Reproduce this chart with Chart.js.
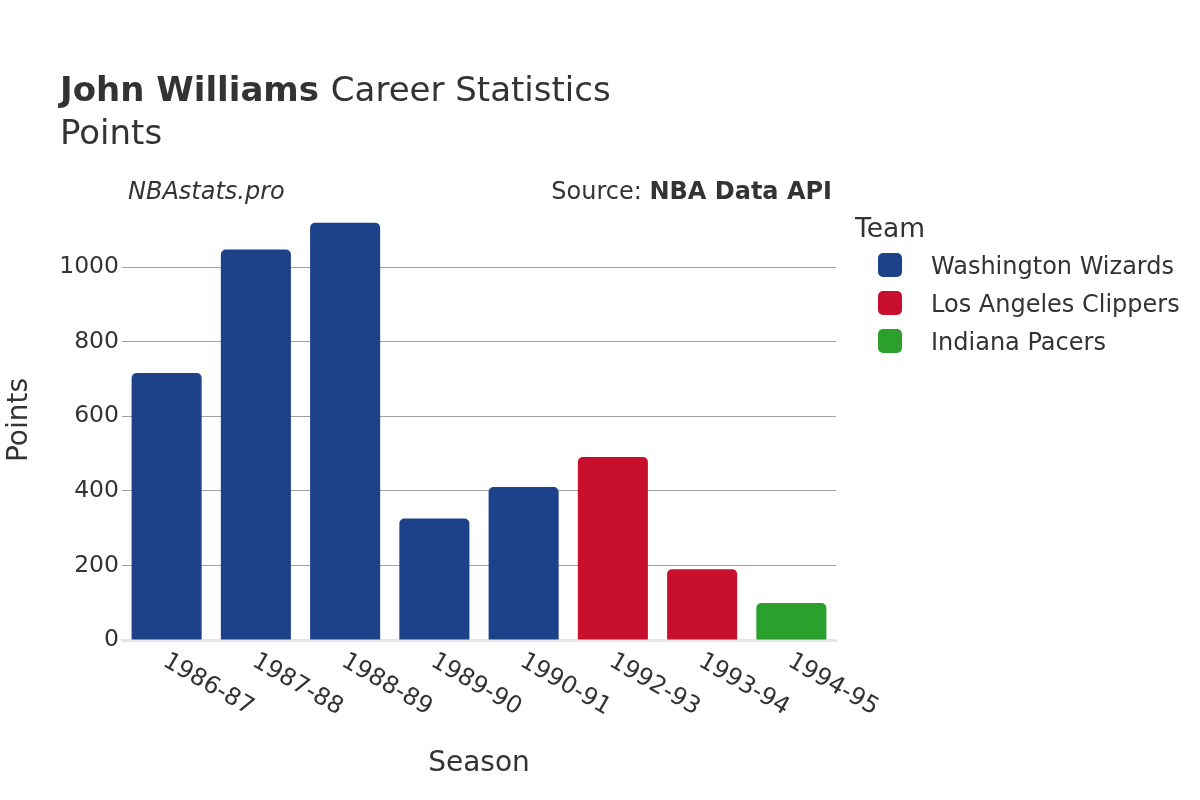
<!DOCTYPE html>
<html>
<head>
<meta charset="utf-8">
<script src="https://cdn.jsdelivr.net/npm/chart.js@4.4.1/dist/chart.umd.min.js"></script>
<style>
  html, body { margin: 0; padding: 0; background: #fff; }
  #wrap { width: 1200px; height: 800px; position: relative; }
</style>
</head>
<body>
<div id="wrap"><canvas id="c" width="1200" height="800"></canvas></div>
<script>
// ---- data ----
const seasons = ['1986-87', '1987-88', '1988-89', '1989-90', '1990-91', '1992-93', '1993-94', '1994-95'];
const points = [716, 1047, 1119, 326, 410, 491, 190, 99];
const seasonTeams = ['Washington Wizards', 'Washington Wizards', 'Washington Wizards', 'Washington Wizards',
                     'Washington Wizards', 'Los Angeles Clippers', 'Los Angeles Clippers', 'Indiana Pacers'];
const teamNames = ['Washington Wizards', 'Los Angeles Clippers', 'Indiana Pacers'];
const teamColors = ['#1d428a', '#c8102e', '#2ca02c'];
const yTicks = [0, 200, 400, 600, 800, 1000];
const yMax = 1180;

const FONT = '"DejaVu Sans", "Liberation Sans", sans-serif';
const TEXT = '#333333';

const datasets = teamNames.map((t, k) => ({
  label: t,
  data: points.map((v, i) => seasonTeams[i] === t ? v : null),
  backgroundColor: teamColors[k],
  borderRadius: 5,
  borderSkipped: 'start',
  barPercentage: 0.785,
  categoryPercentage: 1.0
}));

const textPlugin = {
  id: 'texts',
  afterDraw(chart) {
    const ctx = chart.ctx;
    const area = chart.chartArea;
    const xs = chart.scales.x;
    ctx.save();
    ctx.fillStyle = TEXT;
    ctx.textBaseline = 'alphabetic';

    // Title
    ctx.textAlign = 'left';
    ctx.font = 'bold 34px ' + FONT;
    const boldPart = 'John Williams';
    ctx.fillText(boldPart, 60, 101);
    const bw = ctx.measureText(boldPart + ' ').width;
    ctx.font = '34px ' + FONT;
    ctx.fillText('Career Statistics', 60 + bw, 101);
    // Subtitle
    ctx.fillText('Points', 60, 144);

    // Watermark
    ctx.font = 'italic 24px ' + FONT;
    ctx.fillText('NBAstats.pro', 128, 199);

    // Source (right aligned)
    ctx.font = 'bold 24px ' + FONT;
    const srcB = 'NBA Data API';
    const wB = ctx.measureText(srcB).width;
    ctx.textAlign = 'right';
    ctx.fillText(srcB, 832, 199);
    ctx.font = '24px ' + FONT;
    ctx.fillText('Source: ', 832 - wB, 199);

    // X tick labels rotated 30deg
    ctx.font = '24px ' + FONT;
    ctx.textAlign = 'left';
    seasons.forEach((s, i) => {
      const x = xs.getPixelForValue(i);
      ctx.save();
      ctx.translate(x - 5, 665);
      ctx.rotate(Math.PI / 6);
      ctx.fillText(s, 0, 0);
      ctx.restore();
    });

    // Axis titles
    ctx.font = '28px ' + FONT;
    ctx.textAlign = 'center';
    ctx.fillText('Season', (area.left + area.right) / 2, 771);
    ctx.save();
    ctx.translate(27, (area.top + area.bottom) / 2);
    ctx.rotate(-Math.PI / 2);
    ctx.fillText('Points', 0, 0);
    ctx.restore();

    // Legend
    ctx.textAlign = 'left';
    ctx.font = '26.5px ' + FONT;
    ctx.fillText('Team', 855, 237);
    ctx.font = '24px ' + FONT;
    teamNames.forEach((t, k) => {
      const cy = 265 + k * 38;
      ctx.fillStyle = teamColors[k];
      ctx.beginPath();
      ctx.roundRect(878, cy - 12, 24, 24, 5);
      ctx.fill();
      ctx.fillStyle = TEXT;
      ctx.fillText(t, 931, cy + 9);
    });
    ctx.restore();
  }
};

new Chart(document.getElementById('c'), {
  type: 'bar',
  data: { labels: seasons, datasets },
  plugins: [textPlugin],
  options: {
    responsive: false,
    animation: false,
    layout: { padding: { top: 200, right: 364, bottom: 0, left: 0 } },
    plugins: {
      legend: { display: false },
      title: { display: false },
      tooltip: { enabled: false }
    },
    scales: {
      x: {
        stacked: true,
        grid: { display: false, drawTicks: false },
        border: { display: true, color: '#e6e6e6', width: 3 },
        ticks: { display: false },
        afterFit(scale) { scale.height = 160; }
      },
      y: {
        stacked: false,
        min: 0,
        max: yMax,
        afterBuildTicks(scale) { scale.ticks = yTicks.map(v => ({ value: v })); },
        grid: {
          drawTicks: false,
          color: (c) => (c.tick && c.tick.value === 0) ? 'rgba(0,0,0,0)' : '#a0a0a0',
          lineWidth: 1
        },
        border: { display: false },
        ticks: {
          padding: 3,
          color: TEXT,
          font: { family: FONT, size: 23.5 },
          callback: (v) => String(v)
        },
        afterFit(scale) { scale.width = 122; }
      }
    }
  }
});
</script>
</body>
</html>
